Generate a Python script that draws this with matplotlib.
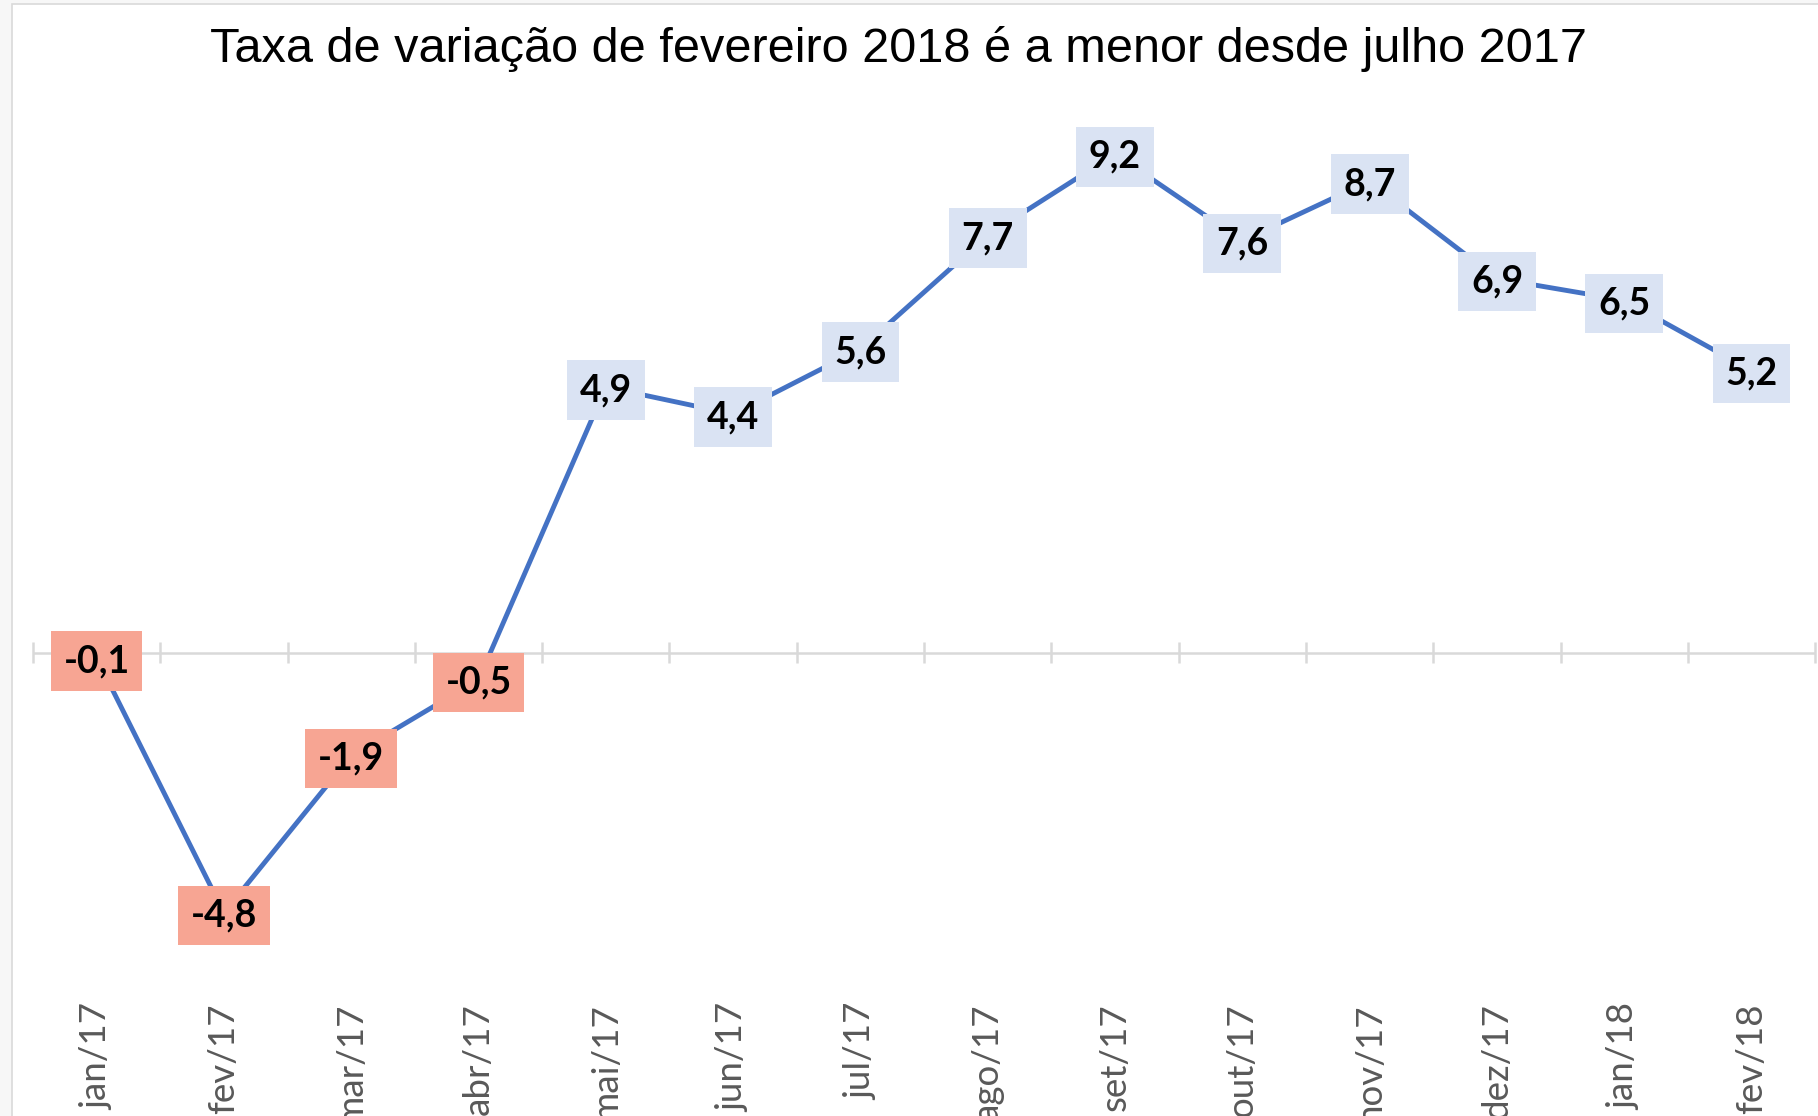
import matplotlib.pyplot as plt
from matplotlib.patches import Rectangle
import matplotlib.transforms as mtransforms

# dados
meses = ["jan/17", "fev/17", "mar/17", "abr/17", "mai/17", "jun/17", "jul/17",
         "ago/17", "set/17", "out/17", "nov/17", "dez/17", "jan/18", "fev/18"]
taxa = [-0.1, -4.8, -1.9, -0.5, 4.9, 4.4, 5.6, 7.7, 9.2, 7.6, 8.7, 6.9, 6.5, 5.2]
titulo = "Taxa de variação de fevereiro 2018 é a menor desde julho 2017"

W, H = 1818, 1116
fig = plt.figure(figsize=(W / 100, H / 100), dpi=100, facecolor="#f7f7f7")

# fundo branco da área do gráfico
fig.patches.append(Rectangle((12 / W, -0.1), 1.2, (H - 4) / H + 0.1,
                             transform=fig.transFigure, facecolor="white",
                             edgecolor="#d9d9d9", linewidth=1.2, zorder=-5))

ax = fig.add_axes([0, 0, 1, 1])
ax.set_zorder(2)
ax.set_facecolor("none")
ax.axis("off")

n = len(meses)
xs = list(range(n))
ax.set_xlim(-0.759, 13.522)
ax.set_ylim(-8.55, 12.04)

# eixo zero e marcas
ax.hlines(0, -0.5, n - 0.5, color="#d9d9d9", lw=1.8, zorder=1)
ax.vlines([i - 0.5 for i in range(n + 1)], -0.19, 0.19, color="#d9d9d9", lw=1.8, zorder=1)

ax.plot(xs, taxa, color="#4472c4", lw=3.5, zorder=2, solid_capstyle="round")

desloc = mtransforms.offset_copy(ax.transData, fig=fig, x=0, y=-3, units="dots")
for x, v in zip(xs, taxa):
    cor = "#f7a593" if v < 0 else "#dae3f3"
    ax.text(x, v, f"{v:.1f}".replace(".", ","), ha="center", va="center",
            fontsize=27, fontweight="bold", family="Lato", color="black", zorder=3,
            transform=desloc,
            bbox=dict(boxstyle="square,pad=0.34", facecolor=cor, edgecolor="none"))

trans = mtransforms.blended_transform_factory(ax.transData, ax.transAxes)
for x, m in zip(xs, meses):
    ax.text(x, 1 - 1003 / H, m, rotation=90, ha="center", va="top",
            fontsize=26.5, family="Lato", color="#595959", transform=trans)

fig.text(898 / W, 1 - 49 / H, titulo, ha="center", va="center",
         fontsize=35, family="Liberation Sans", color="black", zorder=3)

fig.savefig("out.png", dpi=100, facecolor=fig.get_facecolor())
